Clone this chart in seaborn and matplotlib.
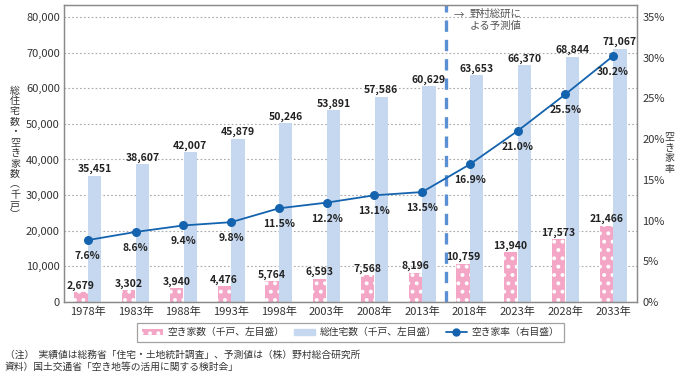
import pandas as pd
import seaborn as sns
import matplotlib.pyplot as plt
from matplotlib.patches import Patch
from matplotlib.lines import Line2D
import matplotlib.transforms as mtransforms

# Data
years = ['1978年', '1983年', '1988年', '1993年', '1998年', '2003年',
         '2008年', '2013年', '2018年', '2023年', '2028年', '2033年']
vacant = [2679, 3302, 3940, 4476, 5764, 6593, 7568, 8196, 10759, 13940, 17573, 21466]
total = [35451, 38607, 42007, 45879, 50246, 53891, 57586, 60629, 63653, 66370, 68844, 71067]
rate = [7.6, 8.6, 9.4, 9.8, 11.5, 12.2, 13.1, 13.5, 16.9, 21.0, 25.5, 30.2]
left_ticks = [0, 10000, 20000, 30000, 40000, 50000, 60000, 70000, 80000]
right_ticks = [0, 5, 10, 15, 20, 25, 30, 35]

pink = '#f4a6c6'
blue = '#c6d8f0'
line_col = '#1463ae'
text_col = '#333333'

sns.set_style('white')
plt.rcParams['font.family'] = ['Noto Sans CJK JP', 'DejaVu Sans']
plt.rcParams['hatch.linewidth'] = 1.6

df = pd.DataFrame({
    '年': years * 2,
    '値': vacant + total,
    '系列': ['空き家数'] * len(years) + ['総住宅数'] * len(years),
})

fig = plt.figure(figsize=(6.82, 3.78), dpi=100)
ax = fig.add_axes([0.0938, 0.201, 0.8402, 0.786])

sns.barplot(data=df, x='年', y='値', hue='系列', palette=[pink, blue],
            width=0.58, gap=0.05, ax=ax, legend=False, saturation=1)

for bar in ax.containers[0]:
    bar.set_hatch('..')
    bar.set_edgecolor('white')
    bar.set_linewidth(0)
for bar in ax.containers[1]:
    bar.set_linewidth(0)

ax.bar_label(ax.containers[0], labels=[f'{v:,}' for v in vacant], padding=1,
             fontsize=7.5, fontweight='bold', color='#222222')
ax.bar_label(ax.containers[1], labels=[f'{v:,}' for v in total], padding=1,
             fontsize=7.5, fontweight='bold', color='#222222')

ax.set_ylim(0, 83370)
ax.set_xlim(-0.5, len(years) - 0.5)
ax.set_yticks(left_ticks)
ax.set_yticklabels([f'{v:,}' for v in left_ticks])
ax.yaxis.grid(True, linestyle=(0, (1.5, 2)), color='#a8a8a8', linewidth=0.8)
ax.set_axisbelow(True)
ax.set_xlabel('')
ax.set_ylabel('')
ax.tick_params(axis='both', length=0, labelsize=8, colors=text_col, pad=3)
for s in ax.spines.values():
    s.set_color('#8a8a8a')
    s.set_linewidth(0.9)

# forecast divider
ax.axvline(7.5, color='#5a8fd4', linewidth=2.4, linestyle=(0, (3.4, 2.4)), zorder=1)
trans = mtransforms.blended_transform_factory(ax.transData, ax.transAxes)
ax.text(7.65, 0.985, '→', transform=trans, fontsize=7.5, color='#555555', va='top')
ax.text(8.0, 0.985, '野村総研に\nよる予測値', transform=trans, fontsize=7.5,
        color='#555555', va='top', ha='left', linespacing=1.15)

# vacancy rate on right axis
ax2 = ax.twinx()
sns.pointplot(x=years, y=rate, ax=ax2, color=line_col, markers='o',
              markersize=5.5, linewidth=1.3, errorbar=None)
ax2.set_ylim(0, 36.47)
ax2.set_xlim(-0.5, len(years) - 0.5)
ax2.set_yticks(right_ticks)
ax2.set_yticklabels([f'{v}%' for v in right_ticks])
ax2.tick_params(axis='y', length=0, labelsize=8, colors=text_col, pad=4)
ax2.set_ylabel('')
for s in ax2.spines.values():
    s.set_color('#8a8a8a')
    s.set_linewidth(0.9)
for i, r in enumerate(rate):
    ax2.annotate(f'{r:.1f}%', (i, r), xytext=(0, -16), textcoords='offset pixels',
                 ha='center', va='center', fontsize=7.5, fontweight='bold',
                 color='#222222')

# axis titles, stacked upright one character per line
left_title = '総住宅数・空き家数︵千戸︶'
fig.text(0.022, 0.595, '\n'.join(left_title), ha='center', va='center',
         fontsize=7.2, color=text_col, linespacing=1.05)
fig.text(0.982, 0.595, '\n'.join('空き家率'), ha='center', va='center',
         fontsize=7.2, color=text_col, linespacing=1.05)

handles = [
    Patch(facecolor=pink, edgecolor='white', hatch='..', linewidth=0),
    Patch(facecolor=blue, edgecolor=blue),
    Line2D([0], [0], color=line_col, marker='o', markersize=5, linewidth=1.3),
]
labels = ['空き家数（千戸、左目盛）', '総住宅数（千戸、左目盛）', '空き家率（右目盛）']
leg = fig.legend(handles, labels, loc='upper center', bbox_to_anchor=(0.514, 0.146),
                 ncol=3, fontsize=7, frameon=True, fancybox=False,
                 handlelength=2.2, handleheight=0.5, columnspacing=0.9,
                 borderpad=0.45, handletextpad=0.5, borderaxespad=0)
leg.get_frame().set_edgecolor('#8a8a8a')
leg.get_frame().set_linewidth(0.9)
for t in leg.get_texts():
    t.set_color(text_col)

fig.text(0.007, 0.061, '（注）  実績値は総務省「住宅・土地統計調査」、予測値は（株）野村総合研究所',
         fontsize=7, color=text_col, va='center')
fig.text(0.007, 0.029, '資料）国土交通省「空き地等の活用に関する検討会」',
         fontsize=7, color=text_col, va='center')

plt.savefig('out.png', dpi=100)
plt.close()
